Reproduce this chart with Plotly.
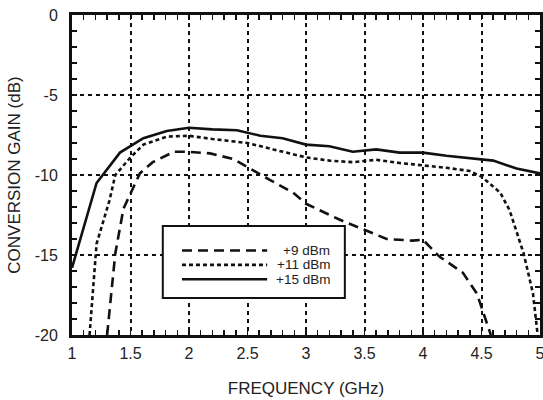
import plotly.graph_objects as go

# ---- data ----
freq_15 = [1.0, 1.21, 1.41, 1.61, 1.81, 2.0, 2.2, 2.41, 2.61, 2.8, 3.0, 3.2, 3.4, 3.6, 3.8, 4.0, 4.2, 4.4, 4.6, 4.8, 5.0]
gain_15 = [-15.8, -10.5, -8.6, -7.7, -7.25, -7.05, -7.15, -7.2, -7.55, -7.7, -8.1, -8.2, -8.55, -8.4, -8.6, -8.6, -8.8, -8.95, -9.1, -9.6, -9.9]

freq_11 = [1.15, 1.21, 1.32, 1.37, 1.5, 1.61, 1.81, 2.0, 2.2, 2.5, 2.72, 3.0, 3.2, 3.4, 3.6, 3.8, 4.0, 4.2, 4.4, 4.5, 4.66, 4.74, 4.86, 4.94, 4.98]
gain_11 = [-20, -14.3, -11.6, -10.0, -8.9, -8.1, -7.6, -7.55, -7.75, -8.0, -8.4, -8.9, -9.1, -9.2, -9.05, -9.25, -9.4, -9.55, -9.75, -10.1, -11.1, -12.2, -14.9, -17.4, -20]

freq_9 = [1.30, 1.37, 1.44, 1.58, 1.69, 1.87, 2.0, 2.18, 2.38, 2.52, 2.69, 2.89, 3.0, 3.29, 3.52, 3.69, 3.91, 4.0, 4.14, 4.34, 4.46, 4.58]
gain_9 = [-20, -14.9, -12.1, -9.9, -9.2, -8.55, -8.55, -8.65, -9.0, -9.6, -10.3, -11.1, -11.8, -12.8, -13.5, -14.0, -14.1, -14.05, -15.1, -16.1, -17.4, -20]

series_names = ["+9 dBm", "+11 dBm", "+15 dBm"]
x_ticks = [1, 1.5, 2, 2.5, 3, 3.5, 4, 4.5, 5]
x_tick_labels = ["1", "1.5", "2", "2.5", "3", "3.5", "4", "4.5", "5"]
y_ticks = [0, -5, -10, -15, -20]
y_tick_labels = ["0", "-5", "-10", "-15", "-20"]

FONT = "Liberation Sans, Arial, sans-serif"
dashes = ["10px,6px", "4px,3px", "solid"]

fig = go.Figure()
for name, fx, gy, d in zip(series_names, [freq_9, freq_11, freq_15], [gain_9, gain_11, gain_15], dashes):
    fig.add_trace(go.Scatter(x=fx, y=gy, mode="lines", name=name,
                             line=dict(color="#111111", width=2.6, dash=d),
                             showlegend=False))

axis_common = dict(
    showline=True, linewidth=3, linecolor="#111111", mirror="allticks",
    ticks="inside", ticklen=5, tickwidth=1.5, tickcolor="#111111",
    showgrid=True, gridcolor="#111111", gridwidth=2, griddash="4px,4px",
    zeroline=False, automargin=False, ticklabeloverflow="allow",
    tickfont=dict(family=FONT, size=16, color="#222222"),
)

fig.update_xaxes(range=[1, 5], tickvals=x_ticks, ticktext=x_tick_labels,
                 minor=dict(dtick=0.1, ticks="inside", ticklen=5, tickwidth=1.5, tickcolor="#111111", showgrid=False),
                 title=dict(text="FREQUENCY (GHz)", font=dict(family=FONT, size=17, color="#222222"), standoff=21),
                 ticklabelstandoff=2,
                 **axis_common)
fig.update_yaxes(range=[-20, 0], tickvals=y_ticks, ticktext=y_tick_labels,
                 minor=dict(dtick=1, ticks="inside", ticklen=5, tickwidth=1.5, tickcolor="#111111", showgrid=False),
                 title=dict(text="CONVERSION GAIN (dB)", font=dict(family=FONT, size=17, color="#222222"), standoff=10),
                 ticklabelstandoff=8,
                 **axis_common)

# ---- manual legend box ----
box = dict(x0=0.194, x1=0.583, y0=0.116, y1=0.341)
fig.add_shape(type="rect", xref="paper", yref="paper", layer="above",
              line=dict(color="#111111", width=2), fillcolor="white", **box)
rows_y = [0.264, 0.219, 0.174]
for name, yy, d in zip(series_names, rows_y, dashes):
    fig.add_shape(type="line", xref="paper", yref="paper", layer="above",
                  x0=0.235, x1=0.417, y0=yy, y1=yy,
                  line=dict(color="#111111", width=2.6, dash=d))
    fig.add_annotation(text=name, xref="paper", yref="paper", x=0.556, y=yy,
                       xanchor="right", yanchor="middle", showarrow=False,
                       font=dict(family=FONT, size=13.5, color="#222222"))

fig.update_layout(width=543, height=400,
                  margin=dict(l=72, r=3, t=15, b=65, autoexpand=False),
                  plot_bgcolor="white", paper_bgcolor="white",
                  hovermode=False)

fig.write_html("out.html", config={"displayModeBar": False, "staticPlot": True},
               post_script="document.body.style.margin='0';")
